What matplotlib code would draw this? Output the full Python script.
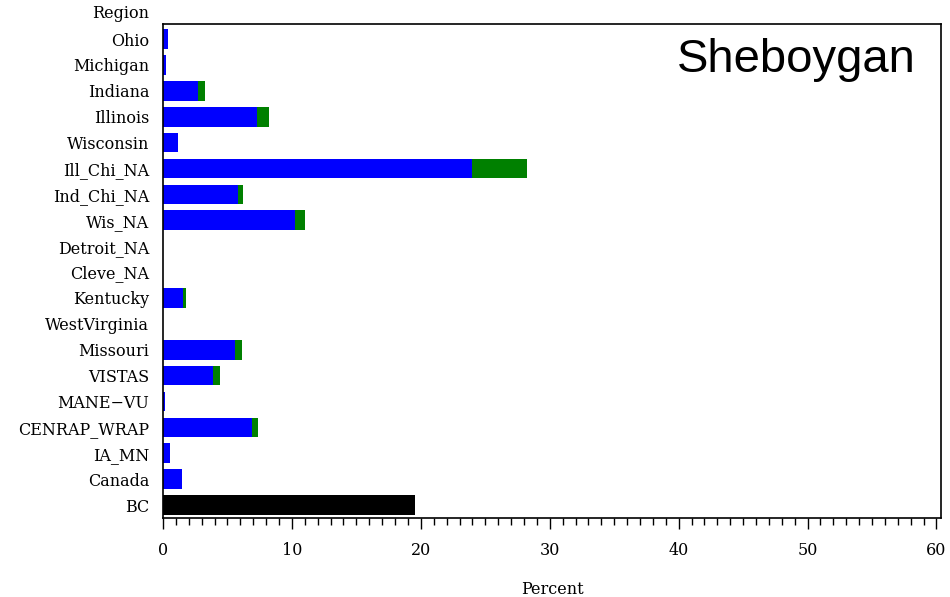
import matplotlib
matplotlib.use("Agg")
import matplotlib.pyplot as plt
from matplotlib.ticker import MultipleLocator
import matplotlib.transforms as mtransforms

regions = ["Ohio", "Michigan", "Indiana", "Illinois", "Wisconsin", "Ill_Chi_NA",
           "Ind_Chi_NA", "Wis_NA", "Detroit_NA", "Cleve_NA", "Kentucky",
           "WestVirginia", "Missouri", "VISTAS", "MANE\u2212VU", "CENRAP_WRAP",
           "IA_MN", "Canada", "BC"]
blue_part = [0.4, 0.2, 2.7, 7.3, 1.15, 24.0, 5.8, 10.25, 0, 0, 1.55, 0, 5.6, 3.9,
             0.15, 6.9, 0.55, 1.45, 0]
green_part = [0.0, 0.0, 0.55, 0.9, 0.0, 4.2, 0.4, 0.75, 0, 0, 0.25, 0, 0.5, 0.5,
              0.0, 0.45, 0.0, 0.05, 0]
black_part = [0, 0, 0, 0, 0, 0, 0, 0, 0, 0, 0, 0, 0, 0, 0, 0, 0, 0, 19.55]
xticks = [0, 10, 20, 30, 40, 50, 60]
site = "Sheboygan"

fig = plt.figure(figsize=(9.5, 5.97), dpi=100)
ax = fig.add_axes([163/950, 1-518/597, (941-163)/950, (518-24)/597])

y = list(range(len(regions)))
h = 0.76
ax.barh(y, blue_part, height=h, color="#0000ff", edgecolor="none")
ax.barh(y, green_part, left=blue_part, height=h, color="#008000", edgecolor="none")
ax.barh(y, black_part, height=h, color="#000000", edgecolor="none")

ax.set_ylim(18.5, -0.58)
ax.set_xlim(0, 60.35)
ax.set_yticks(y)
serif = "DejaVu Serif"
fs = 11.5
ax.set_yticklabels(regions, fontfamily=serif, fontsize=fs)
ax.tick_params(axis="y", length=0, pad=10)
ax.set_xticks(xticks)
ax.set_xticklabels([str(v) for v in xticks], fontfamily=serif, fontsize=fs)
ax.xaxis.set_minor_locator(MultipleLocator(1))
ax.tick_params(axis="x", which="major", direction="out", length=8, width=1, pad=9)
ax.tick_params(axis="x", which="minor", direction="out", length=5, width=1)
for s in ax.spines.values():
    s.set_linewidth(1.2)

trans = mtransforms.blended_transform_factory(ax.transAxes, ax.transData)
ax.annotate("Region", xy=(0, -1), xycoords=trans, xytext=(-14, 0),
            textcoords="offset pixels", ha="right", va="center",
            fontfamily=serif, fontsize=fs, annotation_clip=False)

ax.set_xlabel("Percent", fontfamily=serif, fontsize=fs, labelpad=16)
ax.text(0.968, 0.972, site, transform=ax.transAxes, ha="right", va="top",
        fontfamily="Liberation Sans", fontsize=34)

fig.savefig("out.png", dpi=100)
